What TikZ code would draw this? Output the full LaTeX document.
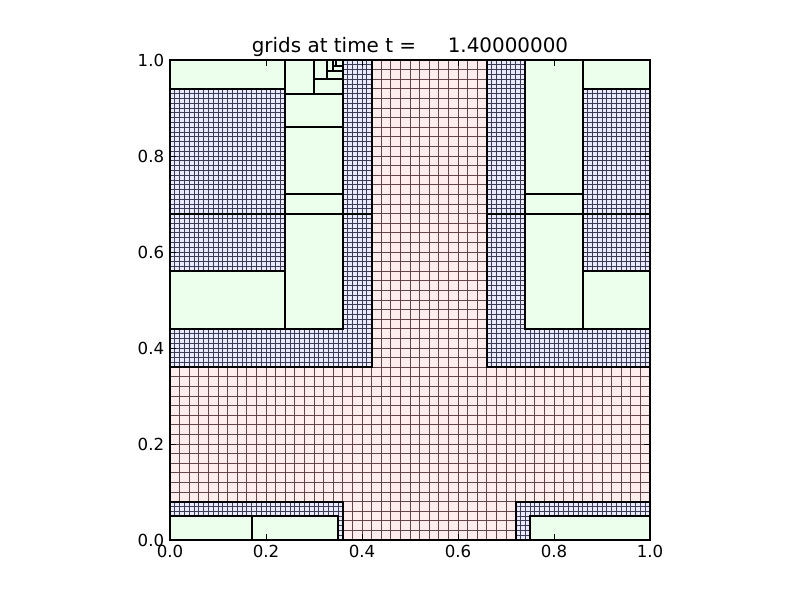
\documentclass[tikz,border=0pt]{standalone}
\usepackage{fontspec}
\setmainfont{DejaVu Sans}
\definecolor{lonefill}{RGB}{255,236,236}
\definecolor{lonegrid}{RGB}{100,70,70}
\definecolor{ltwofill}{RGB}{234,234,255}
\definecolor{ltwogrid}{RGB}{60,60,90}
\definecolor{lthreefill}{RGB}{236,255,236}
\tikzset{
  onegrid/.style={lonegrid,line width=0.5pt},
  twogrid/.style={ltwogrid,line width=0.45pt},
  patchline/.style={black,line width=1.4pt},
  greenbox/.style={fill=lthreefill,draw=black,line width=1.4pt},
  axframe/.style={black,line width=1.2pt},
  tickmark/.style={black,line width=0.6pt},
  ticklab/.style={font=\fontsize{12}{14}\selectfont,inner sep=0pt},
  titlelab/.style={font=\fontsize{14.4}{17}\selectfont,inner sep=0pt}
}
\newcommand\bluepatch[4]{%
  \fill[ltwofill] (#1/100,#3/100) rectangle (#2/100,#4/100);
  \foreach \k in {#1,...,#2} {\draw[twogrid] (\k/100,#3/100) -- (\k/100,#4/100);}
  \foreach \k in {#3,...,#4} {\draw[twogrid] (#1/100,\k/100) -- (#2/100,\k/100);}
  \draw[patchline] (#1/100,#3/100) rectangle (#2/100,#4/100);}
\newcommand\greenpatch[4]{\filldraw[greenbox] (#1,#3) rectangle (#2,#4);}
\begin{document}
\begin{tikzpicture}[x=4.8in,y=4.8in]
\useasboundingbox (-0.3541667,-0.125) rectangle (1.3125,1.125);
% level 1
\fill[lonefill] (0,0) rectangle (1,1);
\foreach \k in {1,...,49} {\draw[onegrid] (\k/50,0) -- (\k/50,1); \draw[onegrid] (0,\k/50) -- (1,\k/50);}
% level 2
\bluepatch{0}{42}{36}{68}
\bluepatch{0}{42}{68}{100}
\bluepatch{66}{100}{36}{68}
\bluepatch{66}{100}{68}{100}
\bluepatch{0}{36}{0}{8}
\bluepatch{72}{100}{0}{8}
% level 3 and finer
\greenpatch{0}{0.24}{0.94}{1}
\greenpatch{0}{0.24}{0.44}{0.56}
\greenpatch{0.24}{0.36}{0.44}{0.68}
\greenpatch{0.24}{0.36}{0.68}{0.72}
\greenpatch{0.24}{0.36}{0.72}{0.86}
\greenpatch{0.24}{0.36}{0.86}{0.93}
\greenpatch{0.24}{0.30}{0.93}{1}
\greenpatch{0.30}{0.36}{0.93}{0.96}
\greenpatch{0.30}{0.327}{0.96}{1}
\greenpatch{0.327}{0.36}{0.96}{0.977}
\greenpatch{0.327}{0.339}{0.977}{1}
\greenpatch{0.339}{0.36}{0.977}{0.988}
\greenpatch{0.339}{0.346}{0.988}{1}
\greenpatch{0.346}{0.36}{0.988}{1}
\greenpatch{0.74}{0.86}{0.72}{1}
\greenpatch{0.74}{0.86}{0.68}{0.72}
\greenpatch{0.74}{0.86}{0.44}{0.68}
\greenpatch{0.86}{1}{0.94}{1}
\greenpatch{0.86}{1}{0.44}{0.56}
\greenpatch{0}{0.17}{0}{0.05}
\greenpatch{0.17}{0.35}{0}{0.05}
\greenpatch{0.75}{1}{0}{0.05}
% frame and ticks
\draw[axframe] (0,0) rectangle (1,1);
\foreach \v in {0,0.2,0.4,0.6,0.8,1} {
  \draw[tickmark] (\v,0) -- ++(0,4pt);
  \draw[tickmark] (\v,1) -- ++(0,-4pt);
  \draw[tickmark] (0,\v) -- ++(4pt,0);
  \draw[tickmark] (1,\v) -- ++(-4pt,0);
}
\foreach \v/\t [count=\n] in {0/0.0,0.2/0.2,0.4/0.4,0.6/0.6,0.8/0.8,1/1.0} {
  \node[ticklab,anchor=base] (xl\n) at (\v,-17/480) {\t};
  \node[ticklab,anchor=east] (yl\n) at (-5.6/480,\v) {\t};
}
\node[titlelab,anchor=base] (title) at (0.5,1+7/480) {grids at time t =\ \ \ \ \ 1.40000000};
\end{tikzpicture}
\end{document}
